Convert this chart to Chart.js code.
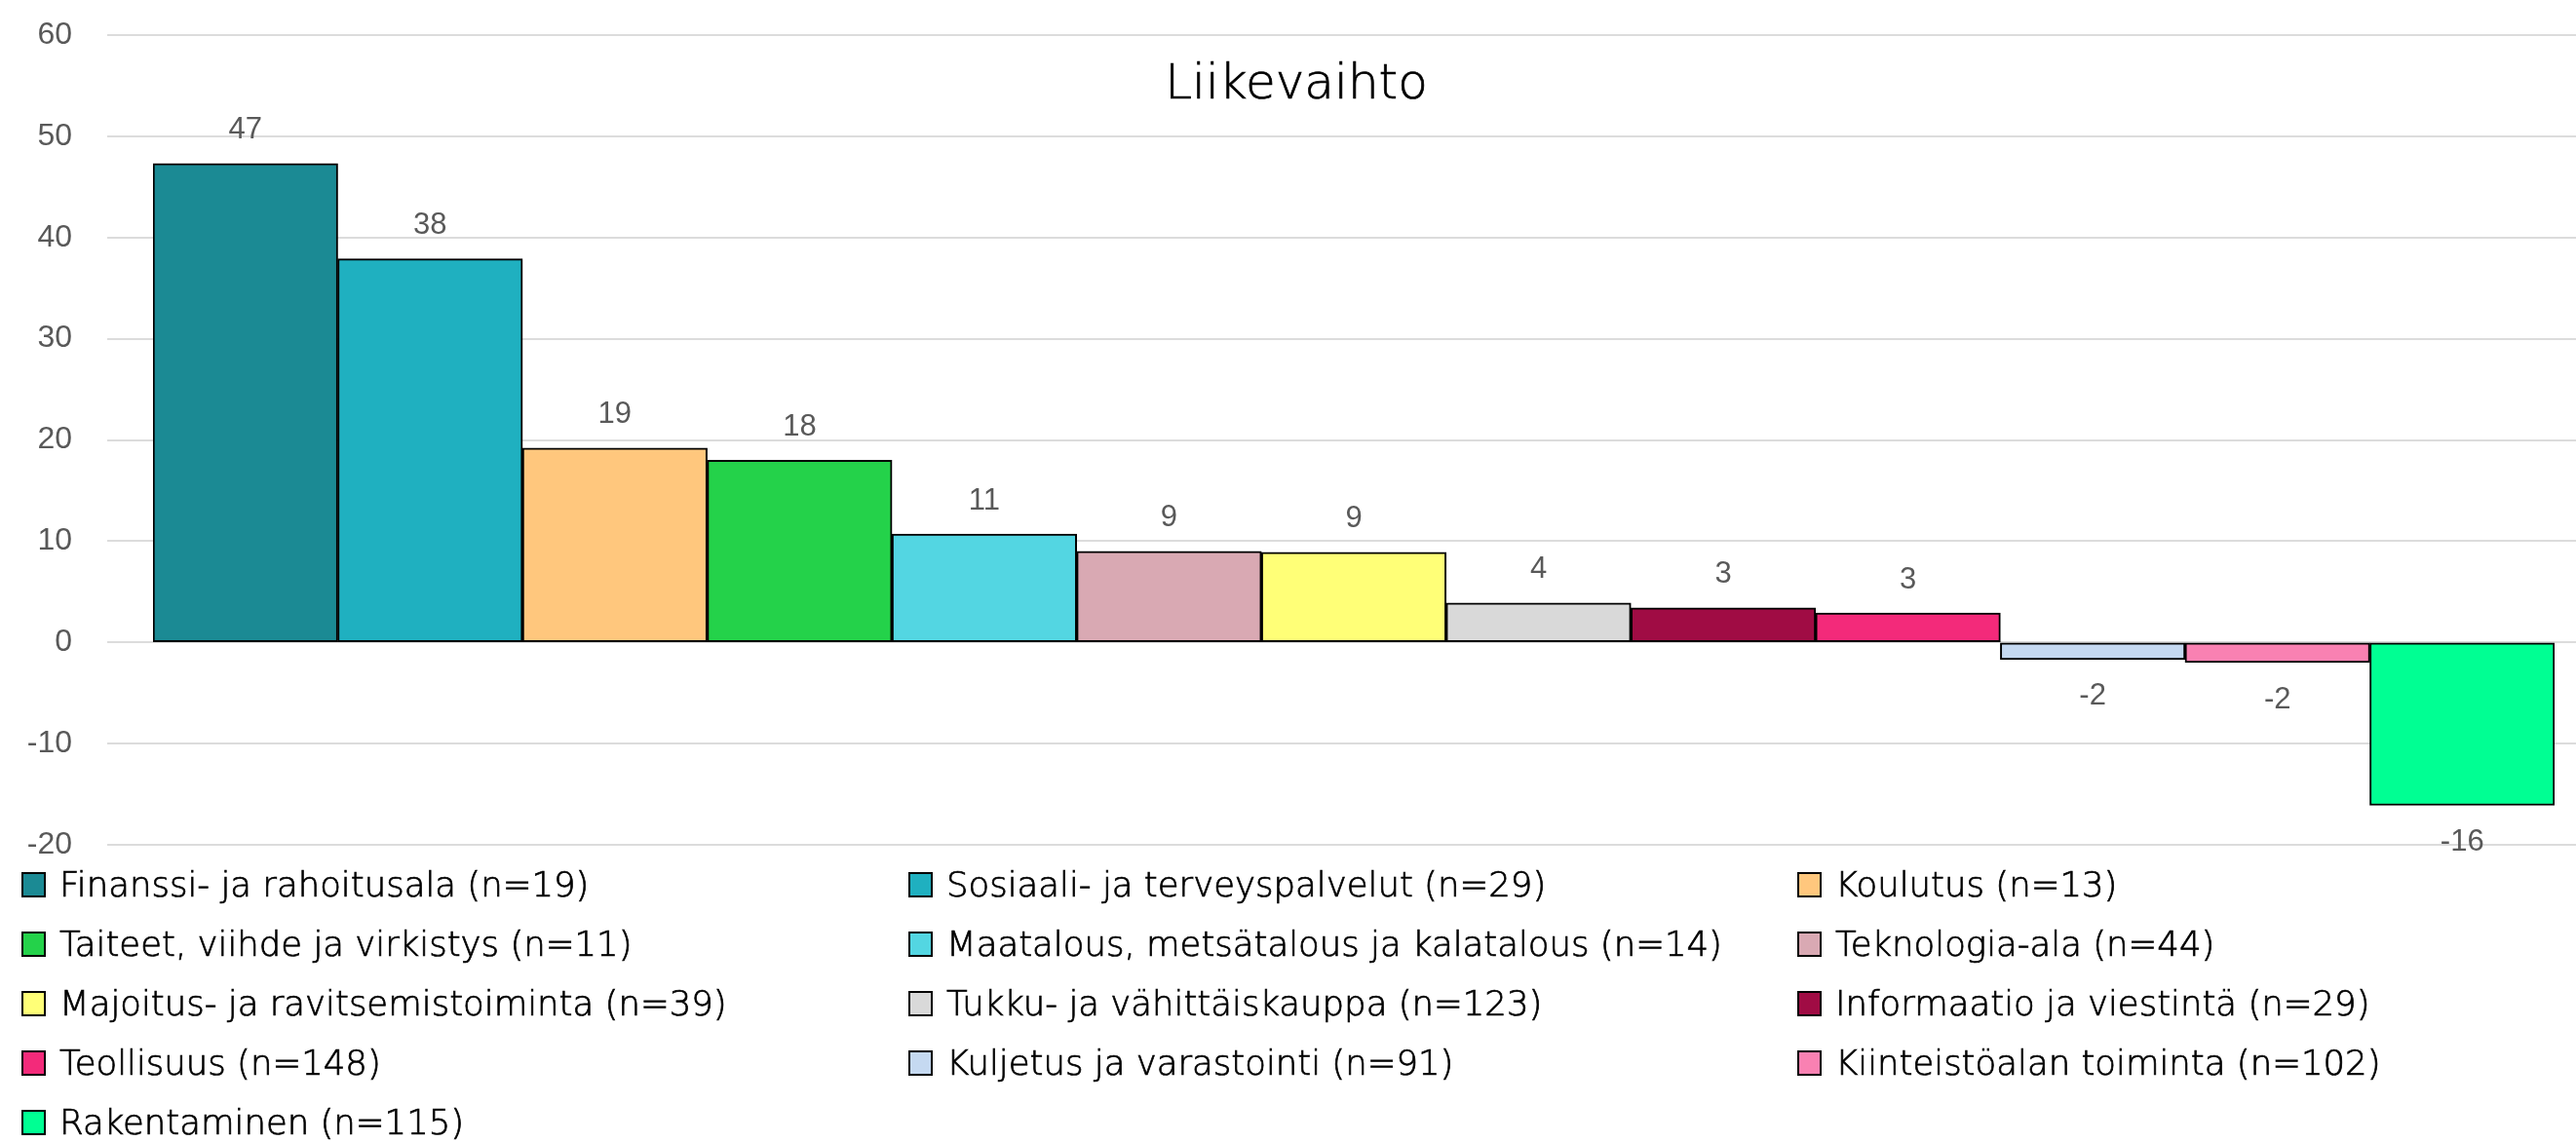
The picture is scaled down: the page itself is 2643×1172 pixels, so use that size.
<!DOCTYPE html>
<html>
<head>
<meta charset="utf-8">
<script src="https://cdn.jsdelivr.net/npm/chart.js@4.4.1/dist/chart.umd.min.js"></script>
<style>
  body { margin: 0; background: #fff; font-family: "DejaVu Sans", sans-serif; }
  #wrap { position: relative; width: 2643px; height: 1172px; overflow: hidden; }
  #myBarChart { position: absolute; left: 0; top: 0; }
  #title { position: absolute; left: 1330px; top: 84px; transform: translate(-50%, -50%);
           font-size: 50px; font-weight: 200; color: #000; white-space: nowrap;
           -webkit-text-stroke: 0.7px #000; }
  #legrow { position: absolute; left: 22px; top: 877px; display: grid;
            grid-template-columns: 910px 912px 780px; grid-auto-rows: 61px; }
  .legendItem { display: flex; align-items: center; font-size: 35.5px; font-weight: 200; color: #000;
                white-space: nowrap; -webkit-text-stroke: 0.7px #000; }
  .colorBox { width: 21px; height: 22px; border: 2px solid #000; margin-right: 14px; flex: none; }
</style>
</head>
<body>
<div id="wrap">
  <canvas id="myBarChart" width="2643" height="1172"></canvas>
  <div id="title">Liikevaihto</div>
  <div id="legrow"></div>
</div>
<script>
var labels = ['Finanssi- ja rahoitusala (n=19)', 'Sosiaali- ja terveyspalvelut (n=29)', 'Koulutus (n=13)',
    'Taiteet, viihde ja virkistys (n=11)', 'Maatalous, metsätalous ja kalatalous (n=14)', 'Teknologia-ala (n=44)',
    'Majoitus- ja ravitsemistoiminta (n=39)', 'Tukku- ja vähittäiskauppa (n=123)', 'Informaatio ja viestintä (n=29)',
    'Teollisuus (n=148)', 'Kuljetus ja varastointi (n=91)', 'Kiinteistöalan toiminta (n=102)', 'Rakentaminen (n=115)'];
var values = [47.3, 37.9, 19.2, 18.0, 10.7, 9.0, 8.9, 3.9, 3.4, 2.9, -1.7, -2.0, -16.1];
var backgroundColors = ['#1b8a94', '#1fb0c0', '#ffc77d', '#24d24a', '#53d6e2', '#d9a9b3', '#ffff77',
    '#d9d9d9', '#a00c44', '#f32a7a', '#c5d9f1', '#f981b2', '#00ff93'];
var yTicks = [-20, -10, 0, 10, 20, 30, 40, 50, 60];

var numFont = '"Liberation Sans", Arial, sans-serif';

// gridlines run wider than the plot area, like in the original
var gridPlugin = {
    id: 'wideGrid',
    beforeDatasetsDraw: function(chart) {
        var ctx = chart.ctx;
        var y = chart.scales.y;
        ctx.save();
        ctx.strokeStyle = '#dcdcdc';
        ctx.lineWidth = 2;
        yTicks.forEach(function(t) {
            var py = Math.round(y.getPixelForValue(t));
            ctx.beginPath();
            ctx.moveTo(110, py);
            ctx.lineTo(chart.width, py);
            ctx.stroke();
        });
        ctx.restore();
    }
};

var valuePlugin = {
    id: 'valueLabels',
    afterDatasetsDraw: function(chart) {
        var ctx = chart.ctx;
        var meta = chart.getDatasetMeta(0);
        ctx.save();
        ctx.fillStyle = '#595959';
        ctx.font = '31px ' + numFont;
        ctx.textAlign = 'center';
        ctx.textBaseline = 'middle';
        meta.data.forEach(function(bar, i) {
            var v = values[i];
            var ty = v >= 0 ? bar.y - 34 : bar.y + 38;
            ctx.fillText(Math.round(v), bar.x, ty);
        });
        ctx.restore();
    }
};

var ctx = document.getElementById('myBarChart').getContext('2d');
var myBarChart = new Chart(ctx, {
    type: 'bar',
    data: {
        labels: labels,
        datasets: [{
            label: 'Liikevaihto',
            data: values,
            backgroundColor: backgroundColors,
            borderColor: '#000',
            borderWidth: 2,
            borderSkipped: false,
            barPercentage: 1,
            categoryPercentage: 1
        }]
    },
    options: {
        responsive: false,
        animation: false,
        devicePixelRatio: 1,
        layout: { padding: { left: 0, right: 22, top: 36, bottom: 305 } },
        scales: {
            x: { display: false },
            y: {
                min: -20,
                max: 60,
                afterFit: function(scale) { scale.width = 157; },
                afterBuildTicks: function(scale) {
                    scale.ticks = yTicks.map(function(v) { return { value: v }; });
                },
                // invisible tick marks push the labels left without adding top padding
                grid: { display: true, drawOnChartArea: false, drawTicks: true, tickLength: 83, color: 'rgba(0,0,0,0)' },
                border: { display: false },
                ticks: {
                    color: '#595959',
                    padding: 0,
                    font: { family: numFont, size: 32 }
                }
            }
        },
        plugins: {
            legend: { display: false },
            tooltip: { enabled: false }
        }
    },
    plugins: [gridPlugin, valuePlugin]
});

var legendContainer = document.getElementById('legrow');
labels.forEach(function(label, index) {
    var legendItem = document.createElement('div');
    legendItem.className = 'legendItem';

    var colorBox = document.createElement('div');
    colorBox.className = 'colorBox';
    colorBox.style.backgroundColor = backgroundColors[index];
    legendItem.appendChild(colorBox);

    var text = document.createElement('span');
    text.textContent = label;
    legendItem.appendChild(text);

    legendContainer.appendChild(legendItem);
});
</script>
</body>
</html>
